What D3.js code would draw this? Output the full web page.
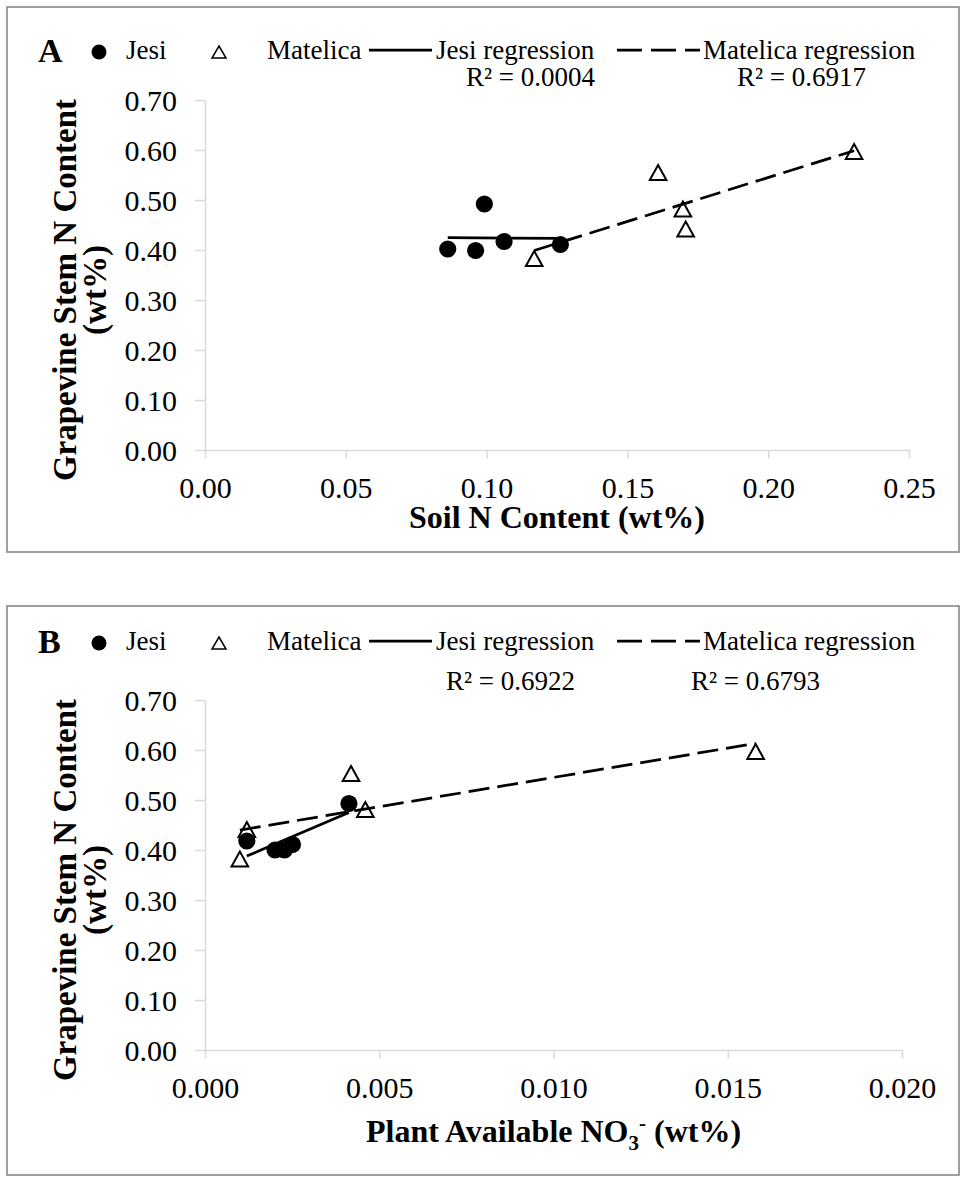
<!DOCTYPE html>
<html>
<head>
<meta charset="utf-8">
<script src="https://cdn.jsdelivr.net/npm/d3@7"></script>
<style>
  body { margin: 0; background: #fff; }
  svg { display: block; }
  text { font-family: "Liberation Serif", "Times New Roman", serif; fill: #000; }
</style>
</head>
<body>
<svg id="chart" width="967" height="1183"></svg>
<script>
// ---- Panel A: soil N content (wt%) vs grapevine stem N content (wt%)
const soilN_jesi        = [0.0862, 0.0961, 0.0992, 0.1062, 0.1262];
const stemN_jesi_A      = [0.402, 0.399, 0.492, 0.417, 0.411];
const soilN_matelica    = [0.1169, 0.1609, 0.1697, 0.1707, 0.2305];
const stemN_matelica_A  = [0.383, 0.555, 0.482, 0.442, 0.597];
const r2_A = ["R\u00B2 = 0.0004", "R\u00B2 = 0.6917"];

// ---- Panel B: plant available NO3- (wt%) vs grapevine stem N content (wt%)
const no3_jesi          = [0.0012, 0.00201, 0.00228, 0.00251, 0.00413];
const stemN_jesi_B      = [0.418, 0.400, 0.400, 0.411, 0.493];
const no3_matelica      = [0.0010, 0.0012, 0.00419, 0.0046, 0.0158];
const stemN_matelica_B  = [0.382, 0.441, 0.553, 0.481, 0.597];
const r2_B = ["R\u00B2 = 0.6922", "R\u00B2 = 0.6793"];

// ---- Tick values
const yTicks  = [0.00, 0.10, 0.20, 0.30, 0.40, 0.50, 0.60, 0.70];
const xTicksA = [0.00, 0.05, 0.10, 0.15, 0.20, 0.25];
const xTicksB = [0.000, 0.005, 0.010, 0.015, 0.020];

const legendLabels = ["Jesi", "Matelica", "Jesi regression", "Matelica regression"];
const yTitle = ["Grapevine Stem N Content", "(wt%)"];

const svg = d3.select("#chart");
const AXIS_GREY = "#d9d9d9";

// ordinary least squares line over the span of the data
function fitLine(xs, ys) {
  const mx = d3.mean(xs), my = d3.mean(ys);
  let sxy = 0, sxx = 0;
  xs.forEach((x, i) => { sxy += (x - mx) * (ys[i] - my); sxx += (x - mx) ** 2; });
  const b = sxy / sxx, a = my - b * mx;
  const [x0, x1] = d3.extent(xs);
  return [[x0, a + b * x0], [x1, a + b * x1]];
}

function trianglePath(cx, cy, hw, h) {
  return `M${cx},${cy - h / 2}L${cx + hw},${cy + h / 2}L${cx - hw},${cy + h / 2}Z`;
}

function drawPanel(cfg) {
  const g = svg.append("g");

  // panel frame
  g.append("rect")
    .attr("x", cfg.frame[0]).attr("y", cfg.frame[1])
    .attr("width", cfg.frame[2]).attr("height", cfg.frame[3])
    .attr("fill", "none").attr("stroke", "#808080").attr("stroke-width", 1.5);

  const x = d3.scaleLinear().domain(cfg.xDomain).range(cfg.xRange);
  const y = d3.scaleLinear().domain([0, 0.7]).range(cfg.yRange);

  // y axis
  const ya = g.append("g")
    .attr("transform", `translate(${cfg.xRange[0]},0)`)
    .call(d3.axisLeft(y).tickValues(yTicks).tickSize(10).tickSizeOuter(0)
      .tickPadding(18).tickFormat(d3.format(".2f")));
  ya.selectAll("text").attr("font-size", 30).attr("dy", "0.34em");

  // x axis
  const xa = g.append("g")
    .attr("transform", `translate(0,${cfg.yRange[0]})`)
    .call(d3.axisBottom(x).tickValues(cfg.xTicks).tickSize(8.5).tickSizeOuter(0)
      .tickFormat(d3.format(cfg.xFmt)));
  xa.selectAll("text").attr("font-size", 30).attr("dy", null).attr("y", 48);

  [ya, xa].forEach(a => {
    a.attr("font-family", null).attr("font-size", null);
    a.select(".domain").attr("stroke", AXIS_GREY).attr("stroke-width", 1.5);
    a.selectAll(".tick line").attr("stroke", AXIS_GREY).attr("stroke-width", 1.5);
  });

  // markers: Matelica triangles, then Jesi circles
  const mat = cfg.matX.map((v, i) => [v, cfg.matY[i]]);
  const jes = cfg.jesX.map((v, i) => [v, cfg.jesY[i]]);

  g.append("g").selectAll("path").data(mat).join("path")
    .attr("d", d => trianglePath(x(d[0]), y(d[1]), 8.3, 15))
    .attr("fill", "#fff").attr("stroke", "#000").attr("stroke-width", 2)
    .attr("stroke-linejoin", "miter");

  g.append("g").selectAll("circle").data(jes).join("circle")
    .attr("cx", d => x(d[0])).attr("cy", d => y(d[1])).attr("r", 8.6)
    .attr("fill", "#000");

  // regression lines
  const line = d3.line().x(d => x(d[0])).y(d => y(d[1]));
  g.append("path").datum(fitLine(cfg.jesX, cfg.jesY)).attr("d", line)
    .attr("fill", "none").attr("stroke", "#000").attr("stroke-width", 2.75);
  g.append("path").datum(fitLine(cfg.matX, cfg.matY)).attr("d", line)
    .attr("fill", "none").attr("stroke", "#000").attr("stroke-width", 2.75)
    .attr("stroke-dasharray", "21,8");

  // panel letter
  g.append("text").attr("x", 38).attr("y", cfg.legendY + 3)
    .attr("font-size", 34).attr("font-weight", "bold").text(cfg.letter);

  // legend
  const ly = cfg.legendY;
  const lg = g.append("g");
  lg.append("circle").attr("cx", 99).attr("cy", ly - 7).attr("r", 7.5).attr("fill", "#000");
  lg.append("text").attr("x", 126).attr("y", ly).attr("font-size", 27).text(legendLabels[0]);
  lg.append("path").attr("d", trianglePath(219, ly - 7, 7, 12))
    .attr("fill", "#fff").attr("stroke", "#000").attr("stroke-width", 1.5);
  lg.append("text").attr("x", 267).attr("y", ly).attr("font-size", 27).text(legendLabels[1]);
  lg.append("line").attr("x1", 369).attr("x2", 432).attr("y1", ly - 9).attr("y2", ly - 9)
    .attr("stroke", "#000").attr("stroke-width", 2.75);
  lg.append("text").attr("x", 436).attr("y", ly).attr("font-size", 27).text(legendLabels[2]);
  lg.append("line").attr("x1", 617).attr("x2", 700).attr("y1", ly - 9).attr("y2", ly - 9)
    .attr("stroke", "#000").attr("stroke-width", 2.75).attr("stroke-dasharray", "25,9");
  lg.append("text").attr("x", 703).attr("y", ly).attr("font-size", 27).text(legendLabels[3]);

  // R² labels
  cfg.r2.forEach((t, i) => {
    g.append("text").attr("x", cfg.r2X[i]).attr("y", cfg.r2Y).attr("font-size", 27).text(t);
  });

  // y axis title (two lines)
  const yt = g.append("text")
    .attr("transform", `translate(76,${cfg.yTitleC}) rotate(-90)`)
    .attr("text-anchor", "middle").attr("font-size", 33).attr("font-weight", "bold");
  yt.append("tspan").attr("x", 0).attr("y", 0).text(yTitle[0]);
  yt.append("tspan").attr("x", 0).attr("y", 30).text(yTitle[1]);

  // x axis title
  const xt = g.append("text")
    .attr("x", (cfg.xRange[0] + cfg.xRange[1]) / 2).attr("y", cfg.xTitleY)
    .attr("text-anchor", "middle").attr("font-size", 32).attr("font-weight", "bold");
  cfg.xTitle(xt);
}

drawPanel({
  letter: "A",
  frame: [7, 7, 952, 545],
  xDomain: [0, 0.25], xRange: [205, 909], yRange: [450, 100],
  xTicks: xTicksA, xFmt: ".2f",
  jesX: soilN_jesi, jesY: stemN_jesi_A,
  matX: soilN_matelica, matY: stemN_matelica_A,
  legendY: 59, r2: r2_A, r2X: [466, 737], r2Y: 86,
  yTitleC: 290, xTitleY: 528,
  xTitle: t => t.text("Soil N Content (wt%)")
});

drawPanel({
  letter: "B",
  frame: [7, 606, 952, 569],
  xDomain: [0, 0.02], xRange: [205, 902], yRange: [1050, 700],
  xTicks: xTicksB, xFmt: ".3f",
  jesX: no3_jesi, jesY: stemN_jesi_B,
  matX: no3_matelica, matY: stemN_matelica_B,
  legendY: 650, r2: r2_B, r2X: [446, 691], r2Y: 690,
  yTitleC: 890, xTitleY: 1142,
  xTitle: t => {
    t.append("tspan").text("Plant Available NO");
    t.append("tspan").attr("font-size", 21).attr("dy", 8).text("3");
    t.append("tspan").attr("font-size", 21).attr("dy", -20).text("-");
    t.append("tspan").attr("dy", 12).text(" (wt%)");
  }
});
</script>
</body>
</html>
